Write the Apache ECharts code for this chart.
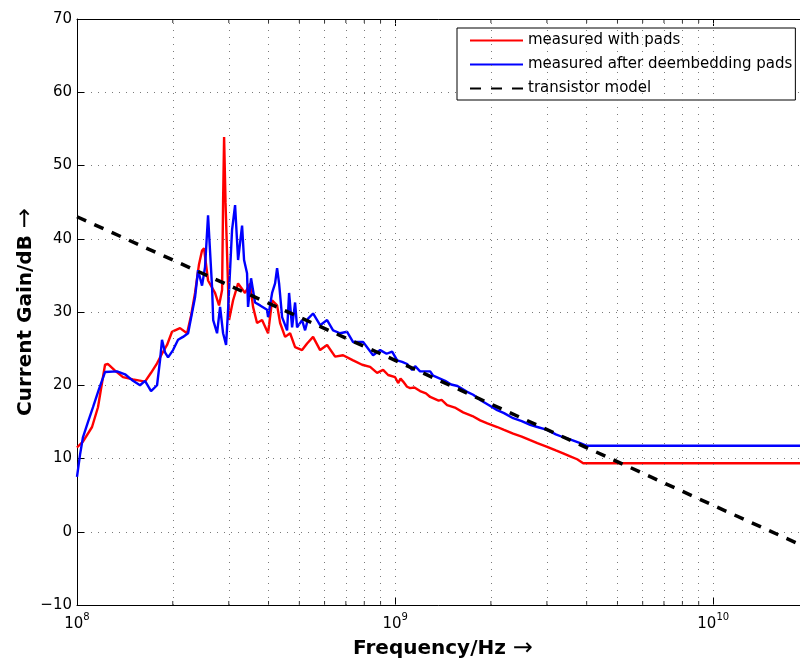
<!DOCTYPE html>
<html>
<head>
<meta charset="utf-8">
<title>Current Gain vs Frequency</title>
<script src="https://cdn.jsdelivr.net/npm/echarts@6/dist/echarts.min.js"></script>
<style>
  html, body { margin: 0; padding: 0; background: #fff; }
  #chart { width: 800px; height: 664px; }
</style>
</head>
<body>
<div id="chart"></div>
<script>
// ---- data -------------------------------------------------------------
const seriesNames = ['measured with pads', 'measured after deembedding pads', 'transistor model'];

// measured with pads (frequency in Hz, gain in dB)
const freqPads = [
  1.000e8, 1.044e8, 1.115e8, 1.164e8, 1.225e8, 1.252e8, 1.317e8, 1.395e8, 1.500e8, 1.590e8,
  1.636e8, 1.709e8, 1.785e8, 1.850e8, 1.919e8, 1.989e8, 2.033e8, 2.108e8, 2.218e8, 2.283e8,
  2.350e8, 2.418e8, 2.472e8, 2.508e8, 2.582e8, 2.716e8, 2.796e8, 2.858e8, 2.879e8, 2.900e8,
  2.930e8, 2.963e8, 3.006e8, 3.095e8, 3.209e8, 3.375e8, 3.499e8, 3.576e8, 3.681e8, 3.817e8,
  3.987e8, 4.105e8, 4.256e8, 4.350e8, 4.510e8, 4.676e8, 4.848e8, 5.099e8, 5.288e8, 5.522e8,
  5.810e8, 6.112e8, 6.477e8, 6.863e8, 7.378e8, 7.875e8, 8.346e8, 8.777e8, 9.168e8, 9.506e8,
  1.000e9, 1.022e9, 1.040e9, 1.060e9, 1.090e9, 1.115e9, 1.150e9, 1.198e9, 1.250e9, 1.289e9,
  1.370e9, 1.400e9, 1.457e9, 1.550e9, 1.636e9, 1.750e9, 1.851e9, 1.950e9, 2.094e9, 2.200e9,
  2.350e9, 2.500e9, 2.658e9, 2.800e9, 3.006e9, 3.200e9, 3.375e9, 3.550e9, 3.735e9, 3.901e9,
  2.000e10
];
const gainPads = [
  11.5, 12.3, 14.3, 17.0, 22.8, 22.9, 22.0, 21.1, 20.8, 20.6,
  20.5, 21.7, 23.0, 24.3, 25.5, 27.3, 27.5, 27.8, 27.1, 29.5,
  32.6, 36.5, 38.4, 38.7, 34.3, 32.6, 30.9, 33.0, 45.0, 53.9,
  45.0, 38.0, 28.9, 31.6, 33.9, 32.6, 33.9, 30.7, 28.5, 28.9,
  27.1, 31.6, 30.9, 28.5, 26.6, 27.1, 25.2, 24.8, 25.7, 26.6,
  24.8, 25.5, 23.9, 24.1, 23.4, 22.8, 22.5, 21.7, 22.1, 21.4,
  21.1, 20.3, 20.9, 20.5, 19.8, 19.6, 19.7, 19.2, 18.9, 18.4,
  17.9, 18.0, 17.3, 16.9, 16.3, 15.8, 15.2, 14.8, 14.3, 13.9,
  13.4, 13.0, 12.5, 12.1, 11.6, 11.1, 10.7, 10.3, 9.9, 9.35,
  9.35
];

// measured after deembedding pads
const freqDeemb = [
  1.000e8, 1.022e8, 1.044e8, 1.083e8, 1.123e8, 1.173e8, 1.225e8, 1.336e8, 1.416e8, 1.500e8,
  1.578e8, 1.636e8, 1.709e8, 1.785e8, 1.824e8, 1.850e8, 1.891e8, 1.933e8, 2.004e8, 2.078e8,
  2.154e8, 2.235e8, 2.350e8, 2.402e8, 2.472e8, 2.526e8, 2.582e8, 2.658e8, 2.680e8, 2.756e8,
  2.817e8, 2.879e8, 2.942e8, 2.985e8, 3.072e8, 3.140e8, 3.209e8, 3.303e8, 3.351e8, 3.424e8,
  3.449e8, 3.525e8, 3.628e8, 3.763e8, 3.958e8, 3.987e8, 4.105e8, 4.194e8, 4.256e8, 4.318e8,
  4.413e8, 4.576e8, 4.642e8, 4.744e8, 4.848e8, 4.918e8, 5.099e8, 5.212e8, 5.326e8, 5.522e8,
  5.810e8, 6.112e8, 6.383e8, 6.714e8, 7.065e8, 7.378e8, 7.932e8, 8.527e8, 8.975e8, 9.400e8,
  9.786e8, 1.015e9, 1.052e9, 1.091e9, 1.131e9, 1.156e9, 1.198e9, 1.289e9, 1.317e9, 1.436e9,
  1.500e9, 1.570e9, 1.684e9, 1.760e9, 1.851e9, 1.950e9, 2.094e9, 2.200e9, 2.350e9, 2.500e9,
  2.658e9, 2.800e9, 3.006e9, 3.200e9, 3.375e9, 3.600e9, 3.818e9, 3.987e9, 2.000e10
];
const gainDeemb = [
  7.5, 10.5, 12.9, 15.0, 17.0, 19.5, 21.8, 21.9, 21.5, 20.6,
  20.0, 20.6, 19.2, 20.0, 23.4, 26.2, 24.5, 23.8, 24.8, 26.2,
  26.6, 27.1, 32.0, 35.7, 33.6, 36.1, 43.2, 33.4, 28.9, 27.1,
  30.7, 27.1, 25.5, 30.3, 41.2, 44.6, 37.1, 41.8, 37.1, 35.3,
  30.7, 34.6, 31.3, 30.9, 30.3, 29.3, 32.6, 33.9, 36.0, 33.9,
  29.3, 27.5, 32.6, 27.9, 31.3, 27.9, 28.9, 27.5, 29.1, 29.8,
  28.2, 28.9, 27.5, 27.1, 27.3, 25.9, 25.9, 24.1, 24.8, 24.3,
  24.6, 23.4, 23.2, 22.9, 22.1, 22.6, 21.9, 21.9, 21.3, 20.6,
  20.1, 19.9, 19.1, 18.7, 18.0, 17.4, 16.6, 16.2, 15.5, 15.1,
  14.6, 14.3, 13.9, 13.3, 12.9, 12.5, 12.1, 11.75, 11.75
];

// transistor model
const freqModel = [1e8, 1e9, 1e10, 2e10];
const gainModel = [43.0, 23.4, 3.6, -2.3];

// axis ranges and tick positions
const xMin = 1e8, xMax = 2e10;
const yMin = -10, yMax = 70, yStep = 10;
const gridFreqs = [
  2e8, 3e8, 4e8, 5e8, 6e8, 7e8, 8e8, 9e8, 1e9,
  2e9, 3e9, 4e9, 5e9, 6e9, 7e9, 8e9, 9e9, 1e10
];
const minorFreqs = [
  2e8, 3e8, 4e8, 5e8, 6e8, 7e8, 8e8, 9e8,
  2e9, 3e9, 4e9, 5e9, 6e9, 7e9, 8e9, 9e9
];

// ---- chart ------------------------------------------------------------
const FONT = '"DejaVu Sans", "Liberation Sans", Arial, sans-serif';
const pairs = (xs, ys) => xs.map((x, i) => [x, ys[i]]);
const dotted = { color: '#7a7a7a', width: 1, type: [1, 6] };
const nameStyle = {
  fontFamily: FONT, fontSize: 20, fontWeight: 'bold', color: '#000',
  rich: { arr: { fontFamily: FONT, fontSize: 24, fontWeight: 'normal', color: '#000' } }
};

const chart = echarts.init(document.getElementById('chart'), null, { renderer: 'canvas' });

function powerLabel(v) {
  const e = Math.round(Math.log10(v));
  return Math.abs(v / Math.pow(10, e) - 1) < 1e-9 ? '{b|10}{sup|' + e + '}' : '';
}

const baseX = {
  type: 'log',
  logBase: 10,
  min: xMin,
  max: xMax,
  axisLine: { show: true, onZero: false, lineStyle: { color: '#000', width: 1 } },
  axisTick: { show: true, inside: true, length: 7, lineStyle: { color: '#000' } },
  splitLine: { show: false },
  minorTick: { show: false },
  minorSplitLine: { show: false }
};

const option = {
  animation: false,
  backgroundColor: '#fff',
  grid: { left: 77, top: 19, bottom: 59, right: -9, containLabel: false, outerBoundsMode: 'none' },
  xAxis: [
    Object.assign({}, baseX, {
      position: 'bottom',
      name: 'Frequency/Hz {arr|\u2192}',
      nameLocation: 'middle',
      nameGap: 31,
      nameTextStyle: nameStyle,
      axisLabel: {
        show: true,
        margin: 7,
        formatter: powerLabel,
        rich: {
          b: { fontFamily: FONT, fontSize: 15, color: '#000' },
          sup: { fontFamily: FONT, fontSize: 10, color: '#000', padding: [0, 0, 14, 0] }
        }
      }
    }),
    Object.assign({}, baseX, {
      position: 'top',
      axisLabel: { show: false }
    })
  ],
  yAxis: {
    type: 'value',
    min: yMin,
    max: yMax,
    interval: yStep,
    name: 'Current Gain/dB {arr|\u2192}',
    nameLocation: 'middle',
    nameGap: 39,
    nameMoveOverlap: false,
    nameTextStyle: nameStyle,
    axisLine: { show: true, lineStyle: { color: '#000', width: 1 } },
    axisTick: { show: true, inside: true, length: 7, lineStyle: { color: '#000' } },
    axisLabel: {
      margin: 5,
      fontFamily: FONT,
      fontSize: 15,
      color: '#000',
      formatter: v => (v < 0 ? '\u2212' + Math.abs(v) : String(v))
    },
    splitLine: { show: true, lineStyle: dotted }
  },
  legend: {
    data: [
      { name: seriesNames[0] },
      { name: seriesNames[1] },
      { name: seriesNames[2], lineStyle: { type: [11, 10] } }
    ],
    orient: 'vertical',
    left: 457,
    top: 28,
    itemWidth: 53,
    itemHeight: 14,
    itemGap: 9,
    padding: [5, 3, 4, 12],
    borderColor: '#000',
    borderWidth: 1,
    borderRadius: 0,
    backgroundColor: '#fff',
    selectedMode: false,
    itemStyle: { color: 'transparent', borderColor: 'transparent', borderWidth: 0, opacity: 0 },
    textStyle: { fontFamily: FONT, fontSize: 15, color: '#000', lineHeight: 15 }
  },
  series: [
    {
      // dotted vertical grid at every decade subdivision
      name: 'grid',
      type: 'scatter',
      xAxisIndex: 0,
      data: [],
      silent: true,
      z: 1,
      markLine: {
        silent: true,
        symbol: 'none',
        label: { show: false },
        lineStyle: dotted,
        animation: false,
        data: gridFreqs.map(f => ({ xAxis: f }))
      }
    },
    {
      // minor ticks along the bottom axis
      name: 'ticksBottom',
      type: 'scatter',
      xAxisIndex: 0,
      clip: false,
      silent: true,
      symbol: 'rect',
      symbolSize: [1, 4],
      symbolOffset: [0, -2],
      itemStyle: { color: '#000' },
      data: minorFreqs.map(f => [f, yMin]),
      z: 2
    },
    {
      // minor ticks along the top axis
      name: 'ticksTop',
      type: 'scatter',
      xAxisIndex: 0,
      clip: false,
      silent: true,
      symbol: 'rect',
      symbolSize: [1, 4],
      symbolOffset: [0, 2],
      itemStyle: { color: '#000' },
      data: minorFreqs.map(f => [f, yMax]),
      z: 2
    },
    {
      name: seriesNames[0],
      type: 'line',
      xAxisIndex: 0,
      data: pairs(freqPads, gainPads),
      symbol: 'none',
      lineStyle: { color: '#ff0000', width: 2.4 },
      itemStyle: { color: '#ff0000' },
      z: 3
    },
    {
      name: seriesNames[1],
      type: 'line',
      xAxisIndex: 0,
      data: pairs(freqDeemb, gainDeemb),
      symbol: 'none',
      lineStyle: { color: '#0000ff', width: 2.4 },
      itemStyle: { color: '#0000ff' },
      z: 4
    },
    {
      name: seriesNames[2],
      type: 'line',
      xAxisIndex: 0,
      data: pairs(freqModel, gainModel),
      symbol: 'none',
      lineStyle: { color: '#000', width: 3.5, type: [10, 9] },
      itemStyle: { color: '#000' },
      z: 5
    }
  ]
};

chart.setOption(option);
</script>
</body>
</html>
